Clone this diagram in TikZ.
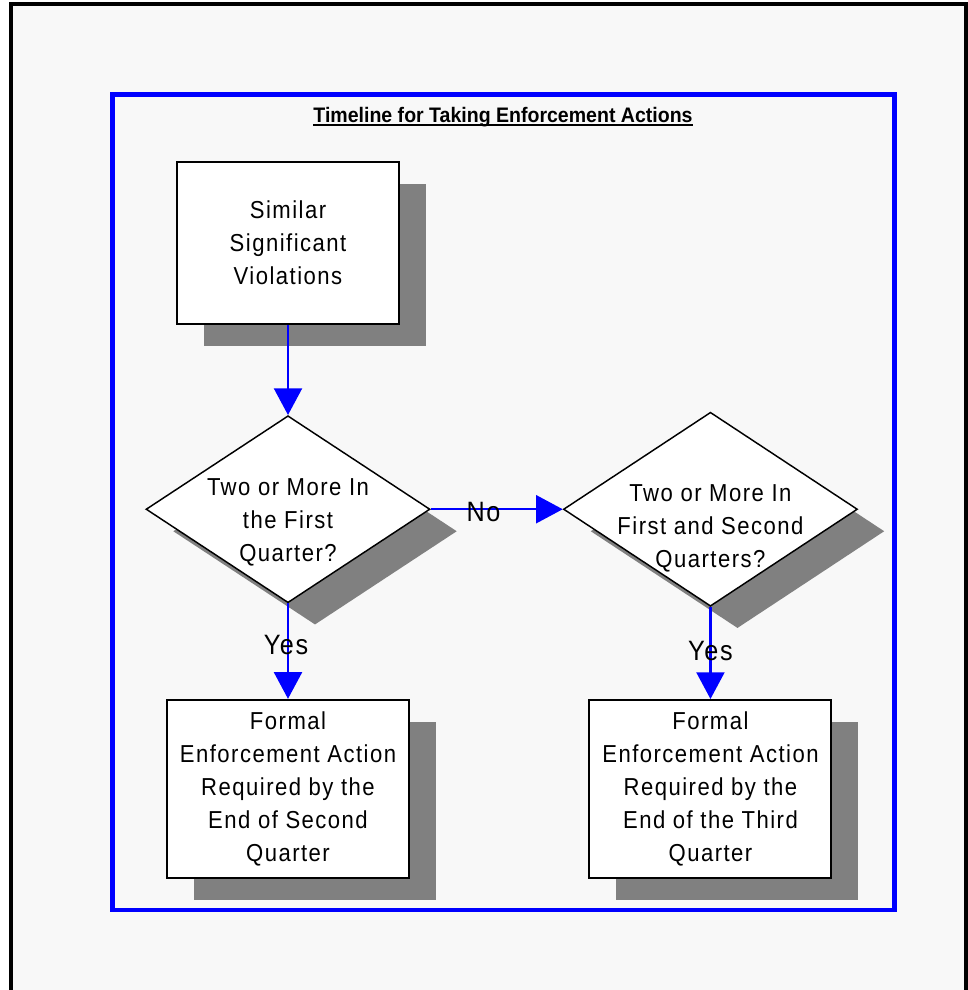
\documentclass[tikz,border=0pt]{standalone}
\usepackage{fontspec}
\setmainfont{Liberation Sans}
\newfontfamily\titlefont[FakeStretch=0.93]{Liberation Sans}
\newfontfamily\bodyfont[FakeStretch=0.9, LetterSpace=6]{Liberation Sans}
\usepackage{xcolor}
\usepackage{tikz}
\usetikzlibrary{shapes.geometric,arrows.meta,positioning,shadows}
\definecolor{pagegray}{HTML}{F8F8F8}
\definecolor{shadowgray}{HTML}{808080}

\begin{document}
\begin{tikzpicture}[
        x=0.75pt, y=-0.75pt,
        boxshadow/.style={drop shadow={shadow xshift=20.25pt, shadow yshift=-16.5pt, fill=shadowgray, opacity=1}},
        process/.style={rectangle, draw, line width=1.5pt, fill=white, minimum width=166.5pt, minimum height=121.5pt, align=center, font=\bodyfont\fontsize{18.4pt}{24.75pt}\selectfont, boxshadow},
        result/.style={process, minimum width=181.5pt, minimum height=133.5pt},
        decision/.style={diamond, draw, line width=1.1pt, fill=white, inner sep=0pt, minimum width=213pt, minimum height=140.25pt, boxshadow},
        question/.style={align=center, inner sep=0pt, font=\bodyfont\fontsize{18.4pt}{24.75pt}\selectfont},
        answer/.style={inner sep=0pt, font=\bodyfont\fontsize{21pt}{24pt}\selectfont},
        arrow/.style={-{Triangle[length=20pt, width=21pt]}, blue, line width=1.6pt}
    ]
        % Page and frames
        \useasboundingbox (0,0) rectangle (968,990);
        \fill[white] (0,0) rectangle (968,990);
        \fill[pagegray] (11,4) rectangle (966,990);
        \draw[line width=3pt] (11,990) -- (11,4) -- (966,4) -- (966,990);
        \draw[blue, line width=3.4pt] (112.5,94.5) rectangle (894.5,910);

        % Title
        \node[anchor=base, inner sep=0pt, font=\titlefont\bfseries\fontsize{15.75pt}{18pt}\selectfont] (title) at (503,122) {Timeline for Taking Enforcement Actions};
        \draw[line width=1.5pt] ([yshift=-2.25pt]title.base west) -- ([yshift=-2.25pt]title.base east);

        % Start
        \node[process] (similar) at (288,243) {Similar\\Significant\\Violations};

        % Decisions
        \node[decision, below=67.5pt of similar] (first) {};
        \node[question] (firstq) at ([yshift=-9.75pt]first.center) {Two or More In\\the First\\Quarter?};
        \node[decision, minimum width=220.5pt, minimum height=145.5pt, right=99pt of first] (second) {};
        \node[question] (secondq) at ([yshift=-14.25pt]second.center) {Two or More In\\First and Second\\Quarters?};

        % Outcomes
        \node[result, below=71.5pt of first] (formalsecond) {Formal\\Enforcement Action\\Required by the\\End of Second\\Quarter};
        \node[result, below=69pt of second] (formalthird) {Formal\\Enforcement Action\\Required by the\\End of the Third\\Quarter};

        % Arrows
        \draw[arrow] (similar) -- (first);
        \draw[arrow] (first) -- node[answer, text=black, pos=0.4, yshift=-2pt] (no) {No} (second);
        \draw[arrow] (first) -- node[answer, text=black, pos=0.44, xshift=-1.5pt] (yesfirst) {Yes} (formalsecond);
        \draw[arrow] (second) -- node[answer, text=black, pos=0.48] (yessecond) {Yes} (formalthird);
    \end{tikzpicture}
\end{document}
